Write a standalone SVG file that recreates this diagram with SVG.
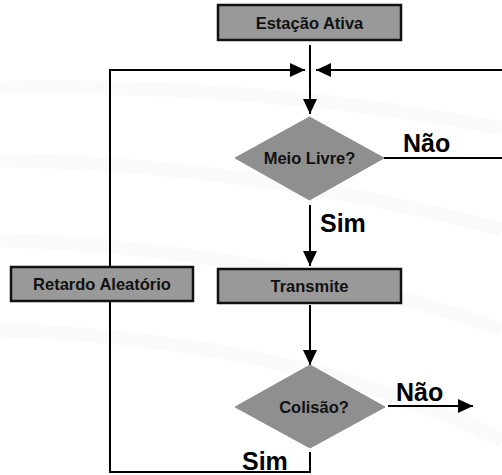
<svg xmlns="http://www.w3.org/2000/svg" width="502" height="475" viewBox="0 0 502 475">
  <defs>
    <marker id="arrow" markerUnits="userSpaceOnUse" markerWidth="16" markerHeight="16" viewBox="0 0 16 16" refX="15" refY="8" orient="auto">
      <path d="M0,1 L15,8 L0,15 Z" fill="#000"/>
    </marker>
  </defs>
  <style>
    .box { fill: #999999; stroke: #111; stroke-width: 2.5; }
    .dia { fill: #8f8f8f; stroke: #8f8f8f; stroke-width: 1; }
    .lbl { font-family: "Liberation Sans", Arial, sans-serif; font-weight: bold; font-size: 16.5px; fill: #111; text-anchor: middle; }
    .big { font-family: "Liberation Sans", Arial, sans-serif; font-weight: bold; font-size: 25px; fill: #000; }
    .ln { fill: none; stroke: #000; stroke-width: 2; }
    .swoosh { fill: none; stroke: #fafafa; stroke-width: 14; }
  </style>

  <rect width="502" height="475" fill="#fff"/>

  <!-- faint background swooshes -->
  <g id="background">
    <path class="swoosh" d="M0,88 Q250,82 502,128"/>
    <path class="swoosh" d="M0,160 Q260,165 502,230"/>
    <path class="swoosh" d="M0,240 Q280,250 502,330"/>
    <path class="swoosh" d="M0,330 Q300,340 502,440"/>
  </g>

  <!-- connectors -->
  <g id="connectors">
    <line class="ln" x1="310" y1="45" x2="310" y2="114" marker-end="url(#arrow)"/>
    <polyline class="ln" points="110,268 110,70 305,70" marker-end="url(#arrow)"/>
    <!-- the return loop runs just past the right edge -->
    <polyline class="ln" points="384,158 505,158 505,70 316,70" marker-end="url(#arrow)"/>
    <line class="ln" x1="310" y1="205" x2="310" y2="266" marker-end="url(#arrow)"/>
    <line class="ln" x1="310" y1="305" x2="310" y2="365" marker-end="url(#arrow)"/>
    <line class="ln" x1="388" y1="406" x2="473" y2="406" marker-end="url(#arrow)"/>
    <polyline class="ln" points="310,452 310,472 110,472 110,302"/>
  </g>

  <g id="estacao-ativa">
    <rect class="box" x="218" y="5" width="183" height="35"/>
    <text class="lbl" x="309.5" y="28.5">Estação Ativa</text>
  </g>

  <g id="meio-livre">
    <polygon class="dia" points="309.5,117 384,158 309.5,200 235,158"/>
    <text class="lbl" x="309.5" y="164">Meio Livre?</text>
  </g>

  <g id="transmite">
    <rect class="box" x="218" y="269" width="183" height="34"/>
    <text class="lbl" x="309.5" y="292">Transmite</text>
  </g>

  <g id="retardo-aleatorio">
    <rect class="box" x="11" y="267" width="182" height="34"/>
    <text class="lbl" x="102" y="290">Retardo Aleatório</text>
  </g>

  <g id="colisao">
    <polygon class="dia" points="310,365 385,407 310,448 235,407"/>
    <text class="lbl" x="314" y="413">Colisão?</text>
  </g>

  <!-- branch labels -->
  <g id="labels">
    <text class="big" x="403" y="152">Não</text>
    <text class="big" x="320" y="232">Sim</text>
    <text class="big" x="396" y="401">Não</text>
    <text class="big" x="242" y="470">Sim</text>
  </g>
</svg>
